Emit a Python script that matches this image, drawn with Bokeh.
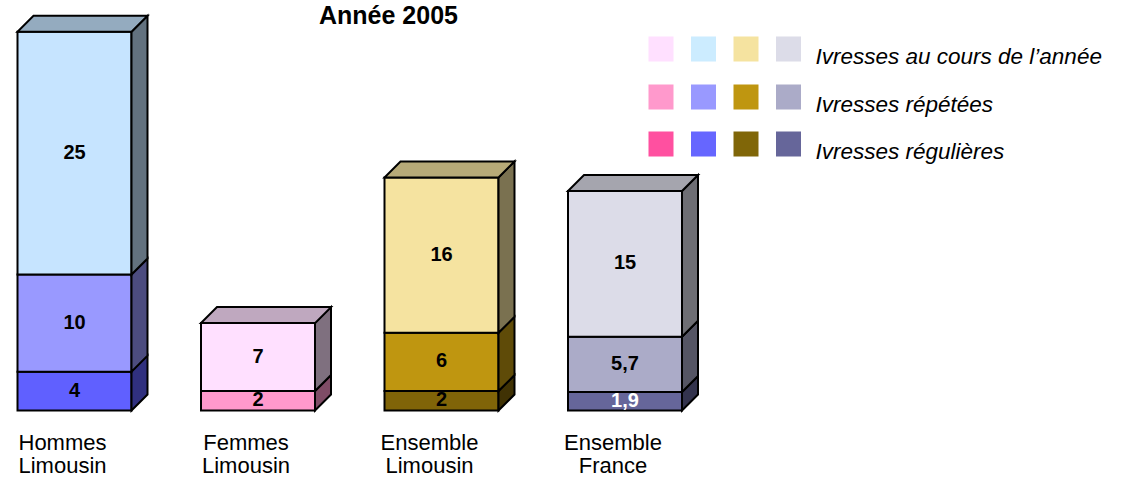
from bokeh.plotting import figure
from bokeh.models import Range1d, ColumnDataSource
from bokeh.core.properties import value
from bokeh.embed import file_html
from bokeh.resources import INLINE

# ---------------- data ----------------
cat_line1 = ["Hommes", "Femmes", "Ensemble", "Ensemble"]
cat_line2 = ["Limousin", "Limousin", "Limousin", "France"]
regulieres = [4, 0, 2, 1.9]
repetees = [10, 2, 6, 5.7]
annee = [25, 7, 16, 15]

col_regulieres = ["#6060FF", "#FF4FA0", "#806408", "#66669A"]
col_repetees = ["#9999FF", "#FF99CC", "#BF9610", "#ABABC8"]
col_annee = ["#C6E4FF", "#FFE0FF", "#F5E3A0", "#DCDCE8"]

legend_labels = ["Ivresses au cours de l\u2019ann\u00e9e", "Ivresses r\u00e9p\u00e9t\u00e9es", "Ivresses r\u00e9guli\u00e8res"]
legend_colors = [
    ["#FFE0FF", "#CCECFF", "#F5E3A0", "#DCDCE8"],
    ["#FF99CC", "#9999FF", "#BF9610", "#ABABC8"],
    ["#FF50A0", "#6666FF", "#806608", "#66669A"],
]
title = "Ann\u00e9e 2005"

# ---------------- geometry (style) ----------------
W, H = 1108, 481
PX_X = 183.5          # px per category step
X0 = 74               # canvas px of first bar centre
PX_Y = 9.71           # px per unit
Y0 = 410              # canvas px of value 0
BAR_W = 114 / PX_X
DX = 16 / PX_X
DY = 16 / PX_Y


def sx(px):
    return (px - X0) / PX_X


def sy(py):
    return (Y0 - py) / PX_Y


def shade(hexc, f):
    h = hexc.lstrip("#")
    r, g, b = (int(h[i:i + 2], 16) for i in (0, 2, 4))
    return "#%02X%02X%02X" % (int(r * f), int(g * f), int(b * f))


def fmt(v):
    return ("%g" % v).replace(".", ",")


p = figure(width=W, height=H, output_backend="svg", toolbar_location=None,
           x_range=Range1d(-X0 / PX_X, (W - X0) / PX_X),
           y_range=Range1d(-(H - Y0) / PX_Y, Y0 / PX_Y),
           min_border=0, outline_line_color=None)
p.axis.visible = False
p.grid.visible = False
p.background_fill_color = "white"
p.border_fill_color = "white"

xs, ys, fills = [], [], []
lab_x, lab_y, lab_t, lab_c = [], [], [], []
series = [(regulieres, col_regulieres), (repetees, col_repetees), (annee, col_annee)]
for i in range(len(cat_line1)):
    left = i - BAR_W / 2
    right = i + BAR_W / 2
    base = 0.0
    for si, (vals, cols) in enumerate(series):
        v = vals[i]
        if not v:
            continue
        top = base + v
        c = cols[i]
        xs.append([left, right, right, left])
        ys.append([base, base, top, top])
        fills.append(c)
        xs.append([right, right + DX, right + DX, right])
        ys.append([base, base + DY, top + DY, top])
        fills.append(shade(c, 0.5))
        lab_x.append(i)
        lab_y.append((base + top) / 2 + 1.5 / PX_Y)
        lab_t.append(fmt(v))
        lab_c.append("white" if (si == 0 and i == 3) else "black")
        base = top
        last_c = c
    xs.append([left, right, right + DX, left + DX])
    ys.append([base, base, base + DY, base + DY])
    fills.append(shade(last_c, 0.75))

p.patches(xs="xs", ys="ys", fill_color="fill", line_color="black", line_width=2,
          line_join="miter",
          source=ColumnDataSource(dict(xs=xs, ys=ys, fill=fills)))

p.text(x="x", y="y", text="t", text_color="c", text_font=value("Liberation Sans"),
       text_font_size="20px", text_font_style="bold", text_align="center",
       text_baseline="middle",
       source=ColumnDataSource(dict(x=lab_x, y=lab_y, t=lab_t, c=lab_c)))

# category labels
cx = [i - 12 / PX_X for i in range(len(cat_line1))]
p.text(x=cx, y=[sy(442)] * 4, text=cat_line1, text_font=value("Liberation Sans"),
       text_font_size="22px", text_align="center", text_baseline="middle",
       text_color="black")
p.text(x=cx, y=[sy(465)] * 4, text=cat_line2, text_font=value("Liberation Sans"),
       text_font_size="22px", text_align="center", text_baseline="middle",
       text_color="black")

# title
p.text(x=[sx(388)], y=[sy(14)], text=[title], text_font=value("Liberation Sans"),
       text_font_size="25px", text_font_style="bold", text_align="center",
       text_baseline="middle", text_color="black")

# legend
sq_x = [660.5, 703, 745.5, 788]
row_y = [48.5, 96.5, 143.5]
lx, ly, lc = [], [], []
for r, cols in enumerate(legend_colors):
    for k, c in enumerate(cols):
        lx.append(sx(sq_x[k]))
        ly.append(sy(row_y[r]))
        lc.append(c)
p.scatter(x=lx, y=ly, marker="square", size=25, fill_color=lc, line_color=None)
p.text(x=[sx(815)] * 3, y=[sy(yy + 7) for yy in row_y], text=legend_labels,
       text_font=value("Liberation Sans"), text_font_size="22.5px",
       text_font_style="italic", text_align="left", text_baseline="middle",
       text_color="black")

open("out.html", "w").write(file_html(p, INLINE))
